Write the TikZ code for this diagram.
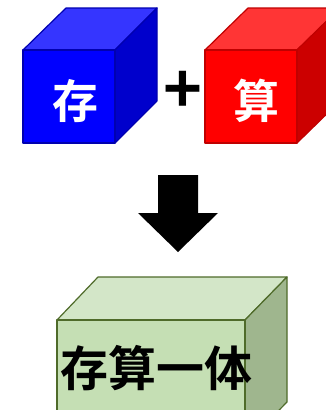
\documentclass[tikz,border=0pt]{standalone}
\usepackage{fontspec}
\newfontfamily\cjk{Noto Sans CJK SC}[BoldFont={Noto Sans CJK SC Bold}]
\begin{document}
\begin{tikzpicture}[x=1pt,y=-1pt,
  face/.style={line width=1.2pt, line join=round},
  cjklabel/.style={font=\cjk\bfseries\fontsize{46}{46}\selectfont, inner sep=0pt}]
\useasboundingbox (0,0) rectangle (326,410);
\clip (0,0) rectangle (326,410);
\definecolor{bfront}{HTML}{0000FF}
\definecolor{btop}{HTML}{3535FF}
\definecolor{bright}{HTML}{0000CC}
\definecolor{bline}{HTML}{0000B0}
\definecolor{rfront}{HTML}{FF0000}
\definecolor{rtop}{HTML}{FF3535}
\definecolor{rright}{HTML}{CC0000}
\definecolor{rline}{HTML}{C00000}
\definecolor{gfront}{HTML}{C5DFB4}
\definecolor{gtop}{HTML}{D3E6C8}
\definecolor{gright}{HTML}{9FB68E}
\definecolor{gline}{HTML}{4F6B2A}
% blue cube
\draw[face, fill=btop, draw=bline] (23,50) -- (66,8) -- (157,8) -- (115,50) -- cycle;
\draw[face, fill=bright, draw=bline] (115,50) -- (157,8) -- (157,101) -- (115,143) -- cycle;
\draw[face, fill=bfront, draw=bline] (23,50) rectangle (115,143);
\node[cjklabel, text=white] (cun) at (75,101) {存};
% red cube
\draw[face, fill=rtop, draw=rline] (205,50) -- (248,8) -- (340,8) -- (297,50) -- cycle;
\draw[face, fill=rright, draw=rline] (297,50) -- (340,8) -- (340,101) -- (297,143) -- cycle;
\draw[face, fill=rfront, draw=rline] (205,50) rectangle (297,143);
\node[cjklabel, text=white] (suan) at (256,101) {算};
% plus
\node[font=\cjk\bfseries\fontsize{66}{66}\selectfont, inner sep=0pt] (plus) at (183,92) {+};
% arrow
\fill[black] (158,175) -- (198,175) -- (198,213) -- (218,213) -- (178,252) -- (138,213) -- (158,213) -- cycle;
% green box
\draw[face, fill=gtop, draw=gline] (57,320) -- (98,277) -- (287,277) -- (245,320) -- cycle;
\draw[face, fill=gright, draw=gline] (245,320) -- (287,277) -- (287,402) -- (245,445) -- cycle;
\draw[face, fill=gfront, draw=gline] (57,320) rectangle (245,445);
\node[font=\cjk\bfseries\fontsize{48}{48}\selectfont, inner sep=0pt, text=black] (cstyt) at (156,368) {存算一体};
\end{tikzpicture}
\end{document}
